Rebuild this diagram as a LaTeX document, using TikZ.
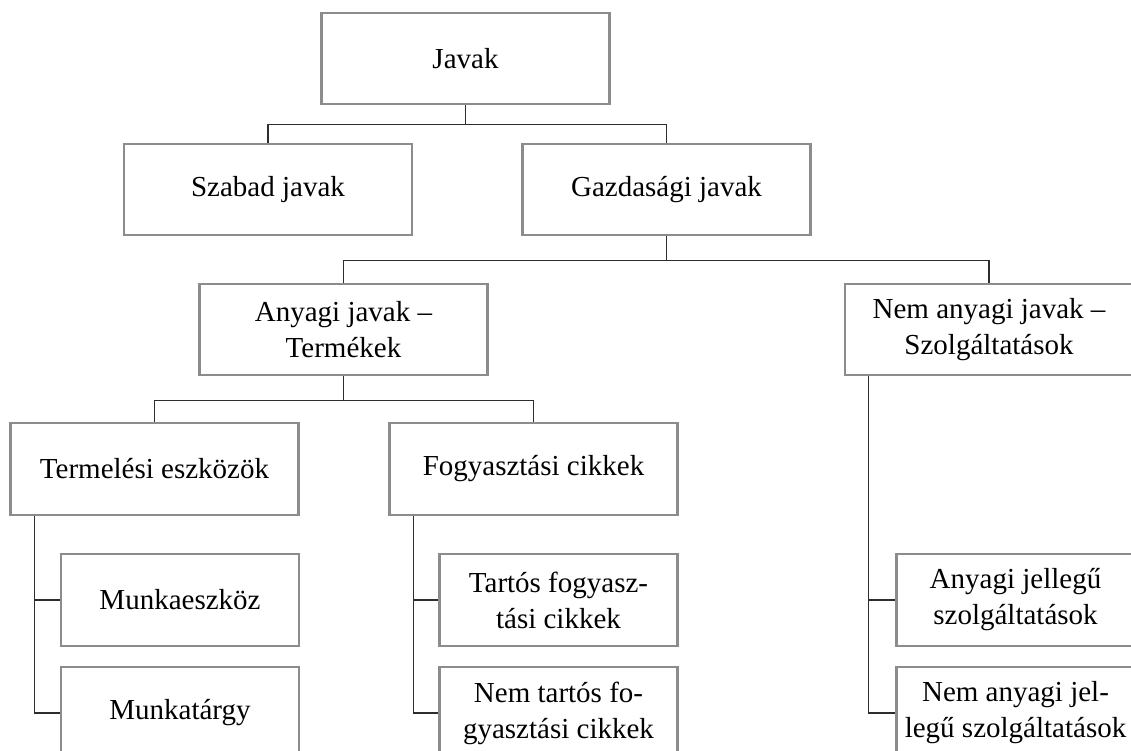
\documentclass[tikz,border=0pt]{standalone}
\usepackage{fontspec}
\setmainfont{Liberation Serif}
\definecolor{boxgray}{RGB}{140,140,140}
\definecolor{linegray}{RGB}{45,45,45}
\begin{document}
\begin{tikzpicture}[x=1pt,y=-1pt,
  box/.style={draw=boxgray, line width=2.6pt, fill=white, rectangle, inner sep=0pt,
    minimum height=91pt, align=center,
    font=\fontsize{29}{36}\selectfont},
  wide/.style={box, minimum width=288pt},
  narrow/.style={box, minimum width=238pt},
  conn/.style={draw=linegray, line width=1.4pt}]
\useasboundingbox (0,0) rectangle (1131,751);
\clip (0,0) rectangle (1131,751);
\fill[white] (0,0) rectangle (1131,751);
% nodes
\node[wide] (javak) at (465.5,58.5) {Javak};
\node[wide] (szabad) at (268,189.5) {Szabad javak};
\node[wide] (gazd) at (666.5,189.5) {Gazdasági javak};
\node[wide] (anyagi) at (343.5,329.5) {Anyagi javak –\\Termékek};
\node[wide] (nemany) at (989,329.5) {Nem anyagi javak –\\Szolgáltatások};
\node[wide, minimum height=92pt] (termel) at (154.5,469) {Termelési eszközök};
\node[wide, minimum height=92pt] (fogy) at (533.5,469) {Fogyasztási cikkek};
\node[narrow, minimum height=92pt] (munkae) at (180,600) {Munkaeszköz};
\node[narrow, minimum height=92pt] (munkat) at (180,713) {Munkatárgy};
\node[narrow, minimum height=92pt] (tartos) at (558.5,600) {Tartós fogyasz-\\tási cikkek};
\node[narrow, minimum height=92pt] (nemtart) at (558.5,713) {Nem tartós fo-\\gyasztási cikkek};
\node[narrow, minimum height=92pt] (anyjell) at (1015.5,600) {Anyagi jellegű\\szolgáltatások};
\node[narrow, minimum height=92pt] (nemjell) at (1015.5,713) {Nem anyagi jel-\\legű szolgáltatások};
% connectors
\draw[conn] (javak.south) -- ++(0,19) -| (szabad.north);
\draw[conn] (javak.south) -- ++(0,19) -| (gazd.north);
\draw[conn] (gazd.south) -- ++(0,24) -| (anyagi.north);
\draw[conn] (gazd.south) -- ++(0,24) -| (nemany.north);
\draw[conn] (anyagi.south) -- ++(0,24) -| (termel.north);
\draw[conn] (anyagi.south) -- ++(0,24) -| (fogy.north);
\draw[conn] ([xshift=25pt]termel.south west) |- (munkae.west);
\draw[conn] ([xshift=25pt]termel.south west) |- (munkat.west);
\draw[conn] ([xshift=25pt]fogy.south west) |- (tartos.west);
\draw[conn] ([xshift=25pt]fogy.south west) |- (nemtart.west);
\draw[conn] ([xshift=25pt]nemany.south west) |- (anyjell.west);
\draw[conn] ([xshift=25pt]nemany.south west) |- (nemjell.west);
\end{tikzpicture}
\end{document}
